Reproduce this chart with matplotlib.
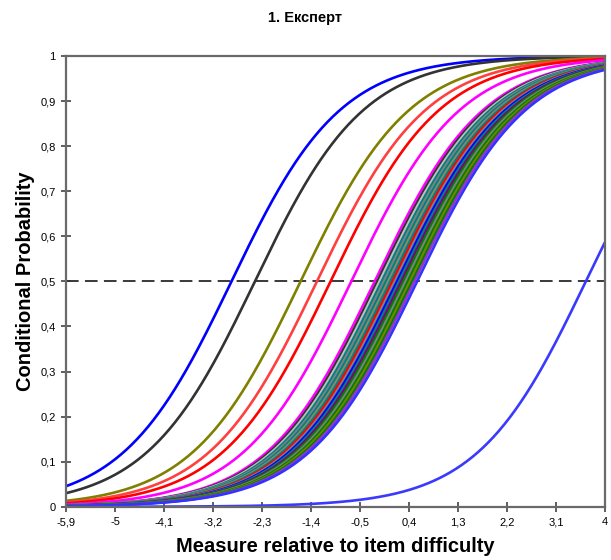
import numpy as np
import matplotlib
matplotlib.use('Agg')
import matplotlib.pyplot as plt

plt.rcParams['font.family'] = ['Liberation Sans', 'DejaVu Sans']

# person measures relative to item difficulty (logits), one curve each
measures = [-2.86, -2.43, -1.59, -1.29, -1.04, -0.66,
            -0.23, -0.18, -0.14, -0.10, -0.06, -0.02, 0.02, 0.06,
            0.10, 0.14, 0.18, 0.22, 0.26, 0.30, 0.34, 0.38, 0.42,
            0.46, 0.50, 0.55,
            3.65]
colors = ['#0000ff', '#333333', '#808000', '#ff4040', '#ff0000', '#ff00ff',
          '#ff00ff', '#333333', '#c0c0c0', '#008080', '#808080', '#008080',
          '#8a8a6a', '#008080', '#ff0000', '#808080', '#0000ff', '#008080',
          '#800080', '#008000', '#808080', '#008000', '#808000', '#008000',
          '#9933cc', '#3333ff',
          '#3a3aff']

xticks = [-5.9, -5, -4.1, -3.2, -2.3, -1.4, -0.5, 0.4, 1.3, 2.2, 3.1, 4]
yticks = [0, 0.1, 0.2, 0.3, 0.4, 0.5, 0.6, 0.7, 0.8, 0.9, 1]


def comma(v):
    return f'{v:g}'.replace('.', ',')


theta = np.linspace(-5.9, 4, 500)

fig = plt.figure(figsize=(6.11, 5.60), dpi=100)
ax = fig.add_axes([0.108, 0.095, 0.882, 0.805])

ax.axhline(0.5, color='#2a2a2a', linestyle=(0, (7, 3.5)), linewidth=1.3, zorder=1)

for b, c in zip(measures, colors):
    p = 1.0 / (1.0 + np.exp(-(theta - b)))
    ax.plot(theta, p, color=c, linewidth=1.9, solid_capstyle='butt', zorder=2)

ax.set_xlim(-5.9, 4)
ax.set_ylim(0, 1)
ax.set_xticks(xticks)
ax.set_xticklabels([comma(v) for v in xticks])
ax.set_yticks(yticks)
ax.set_yticklabels([comma(v) for v in yticks])
ax.tick_params(direction='inout', length=7, width=1.1, color='#333333',
               labelsize=8, pad=4)

for s in ax.spines.values():
    s.set_color('#6a6a6a')
    s.set_linewidth(1.6)

ax.set_xlabel('Measure relative to item difficulty', fontsize=14.5,
              fontweight='bold', labelpad=7)
ax.set_ylabel('Conditional Probability', fontsize=14.5,
              fontweight='bold', labelpad=4)
fig.text(0.5, 0.967, '1. Експерт', ha='center', va='center',
         fontsize=10.5, fontweight='bold')

fig.savefig('out.png', dpi=100)
